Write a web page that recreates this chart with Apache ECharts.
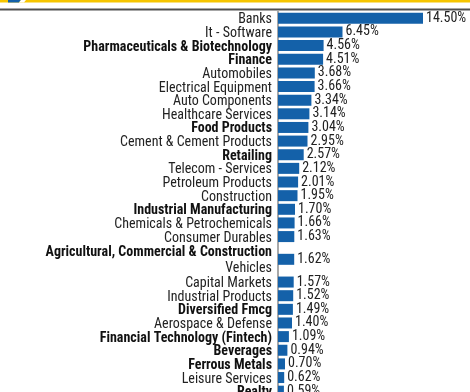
<!DOCTYPE html>
<html>
<head>
<meta charset="utf-8">
<style>
  html, body { margin: 0; padding: 0; background: #ffffff; }
  #chart { width: 470px; height: 392px; }
</style>
<script src="https://cdn.jsdelivr.net/npm/echarts@6/dist/echarts.min.js"></script>
</head>
<body>
<div id="chart"></div>
<script>
// Sector allocation (% of net assets)
const categories = [
  'Banks',
  'It - Software',
  'Pharmaceuticals & Biotechnology',
  'Finance',
  'Automobiles',
  'Electrical Equipment',
  'Auto Components',
  'Healthcare Services',
  'Food Products',
  'Cement & Cement Products',
  'Retailing',
  'Telecom - Services',
  'Petroleum Products',
  'Construction',
  'Industrial Manufacturing',
  'Chemicals & Petrochemicals',
  'Consumer Durables',
  'Agricultural, Commercial & Construction\nVehicles',
  'Capital Markets',
  'Industrial Products',
  'Diversified Fmcg',
  'Aerospace & Defense',
  'Financial Technology (Fintech)',
  'Beverages',
  'Ferrous Metals',
  'Leisure Services',
  'Realty'
];

const values = [
  14.50, 6.45, 4.56, 4.51, 3.68, 3.66, 3.34, 3.14, 3.04, 2.95,
  2.57, 2.12, 2.01, 1.95, 1.70, 1.66, 1.63, 1.62, 1.57, 1.52,
  1.49, 1.40, 1.09, 0.94, 0.70, 0.62, 0.59
];

// Sectors whose names are set in bold
const boldNames = [
  'Pharmaceuticals & Biotechnology',
  'Finance',
  'Food Products',
  'Retailing',
  'Industrial Manufacturing',
  'Agricultural, Commercial & Construction\nVehicles',
  'Diversified Fmcg',
  'Financial Technology (Fintech)',
  'Beverages',
  'Ferrous Metals',
  'Realty'
];

const FONT = '"Roboto Condensed", "Liberation Sans Narrow", "Arial Narrow", sans-serif';

// Each sector sits in a band of sub-slots; a two-line name gets a taller band.
const slots = [];
const slotValues = [];
categories.forEach((name, i) => {
  const span = name.indexOf('\n') >= 0 ? 7 : 3;
  const mid = Math.floor(span / 2);
  for (let k = 0; k < span; k++) {
    if (k === mid) {
      slots.push(name);
      slotValues.push(values[i]);
    } else {
      slots.push('');
      slotValues.push(null);
    }
  }
});

function formatName(name) {
  if (!name) return '';
  const bold = boldNames.indexOf(name) >= 0;
  const lines = name.split('\n');
  if (lines.length > 1) {
    return '{b|' + lines[0] + '}\n{r|' + lines.slice(1).join(' ') + '}';
  }
  return bold ? '{b|' + name + '}' : '{r|' + name + '}';
}

const chart = echarts.init(document.getElementById('chart'), null, { renderer: 'canvas' });

chart.setOption({
  animation: false,
  backgroundColor: '#ffffff',
  grid: {
    left: 278, width: 190, top: 11.5, height: 386.5,
    containLabel: false,
    outerBoundsMode: 'none'
  },
  xAxis: {
    type: 'value',
    min: 0,
    max: 19,
    show: false
  },
  yAxis: {
    type: 'category',
    inverse: true,
    data: slots,
    offset: 1,
    axisTick: { show: false },
    axisLine: { show: true, lineStyle: { color: '#a8a8a8', width: 2 } },
    splitLine: { show: false },
    axisLabel: {
      interval: 0,
      margin: 5,
      padding: [3, 0, 0, 0],
      hideOverlap: false,
      formatter: formatName,
      rich: {
        b: { fontFamily: FONT, fontSize: 14, fontWeight: 'bold', color: '#111111', lineHeight: 16, align: 'right' },
        r: { fontFamily: FONT, fontSize: 14, fontWeight: 'normal', color: '#222222', lineHeight: 16, align: 'right' }
      }
    }
  },
  series: [{
    type: 'bar',
    data: slotValues,
    barWidth: 11,
    itemStyle: { color: '#1461a9' },
    label: {
      show: true,
      position: 'right',
      distance: 3,
      padding: [3, 0, 0, 0],
      fontFamily: FONT,
      fontSize: 14,
      color: '#222222',
      formatter: p => (p.value == null ? '' : p.value.toFixed(2) + '%')
    }
  }],
  graphic: [
    // header strip
    { type: 'rect', left: 0, top: 0, shape: { width: 470, height: 2.5 }, style: { fill: '#f6c500' }, silent: true },
    { type: 'polygon', shape: { points: [[8, 0], [21, 0], [19, 2.5], [8, 2.5]] }, style: { fill: '#1461a9' }, silent: true },
    { type: 'polygon', shape: { points: [[21, 0], [26, 0], [24, 2.5], [19, 2.5]] }, style: { fill: '#ffffff' }, silent: true },
    { type: 'rect', left: 0, top: 8.5, shape: { width: 470, height: 2 }, style: { fill: '#505050' }, silent: true }
  ]
});
</script>
</body>
</html>
